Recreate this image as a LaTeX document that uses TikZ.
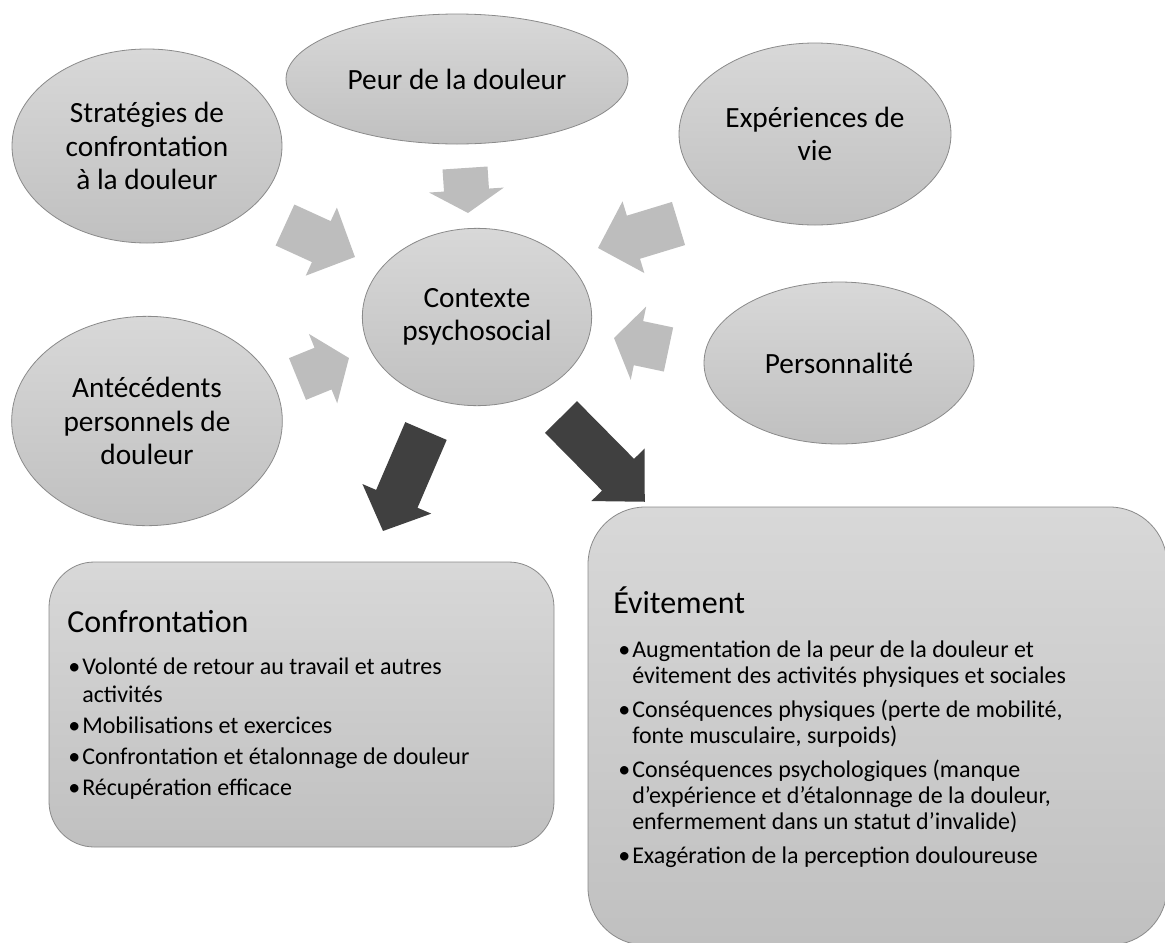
\documentclass[tikz,border=0pt]{standalone}
\usepackage{fontspec}
\setmainfont{Carlito}
\usepackage{tikz}
\usetikzlibrary{calc, shapes.geometric}
\definecolor{shapetop}{HTML}{D8D8D8}
\definecolor{shapebot}{HTML}{C0C0C0}
\definecolor{shapeline}{HTML}{8A8A8A}
\definecolor{lightarrow}{HTML}{BDBDBD}
\definecolor{darkarrow}{HTML}{404040}
\tikzset{
  bubble/.style = {ellipse, draw = shapeline, line width = 0.6pt, top color = shapetop, bottom color = shapebot, inner sep = 0pt, align = center, font = \fontsize{22}{25}\selectfont},
  panel/.style = {rectangle, rounded corners = #1, draw = shapeline, line width = 0.6pt, top color = shapetop, bottom color = shapebot, inner sep = 0pt},
  paneltitle/.style = {anchor = base west, inner sep = 0pt, font = \fontsize{24}{28}\selectfont},
  itemlist/.style = {anchor = base west, inner sep = 0pt, text width = 420pt, align = left, font = #1},
  lightblock/.style = {fill = lightarrow},
  darkblock/.style = {fill = darkarrow}
}
\newcommand{\itm}[1]{\hangindent = 10.5pt\hangafter = 1\noindent\makebox[10.5pt][l]{\textbullet}#1\par}
\newcommand{\blockarrow}[4]{%
  \path (#1); \pgfgetlastxy{\backx}{\backy}
  \path (#2); \pgfgetlastxy{\tipx}{\tipy}
  \pgfmathsetmacro{\arrang}{atan2(\tipy-\backy, \tipx-\backx)}
  \pgfmathsetmacro{\arrlen}{veclen(\tipx-\backx, \tipy-\backy)}
  \pgfmathsetmacro{\arrneck}{\arrlen-#3}
  \fill[#4, shift = {(\backx, \backy)}, rotate = \arrang] (0pt, -16.9pt) -- (\arrneck pt, -16.9pt) -- (\arrneck pt, -28.1pt) -- (\arrlen pt, 0pt) -- (\arrneck pt, 28.1pt) -- (\arrneck pt, 16.9pt) -- (0pt, 16.9pt) -- cycle;
}
\begin{document}
\begin{tikzpicture}[x = 0.75pt, y = -0.75pt]
\useasboundingbox (0,0) rectangle (1165,943);
\node[bubble, minimum width = 202.5pt, minimum height = 145.5pt] (strat) at (147,146) {Stratégies de\\confrontation\\à la douleur};
\node[bubble, minimum width = 256.5pt, minimum height = 97.5pt] (peur) at (457,79) {Peur de la douleur};
\node[bubble, minimum width = 204pt, minimum height = 136.5pt] (exper) at (815,134) {Expériences de\\vie};
\node[bubble, minimum width = 202.5pt, minimum height = 121.5pt] (perso) at (839,363) {Personnalité};
\node[bubble, minimum width = 203pt, minimum height = 157pt] (ante) at (147,421) {Antécédents\\personnels de\\douleur};
\node[bubble, minimum width = 172pt, minimum height = 133pt] (ctx) at (477,317) {Contexte\\psychosocial};

\coordinate (peurback) at (465,168); \coordinate (peurtip) at (468,213);
\coordinate (stratback) at (285,225); \coordinate (strattip) at (355,257);
\coordinate (anteback) at (297.5,379); \coordinate (antetip) at (349,358);
\coordinate (experback) at (678.5,223.5); \coordinate (expertip) at (598,248);
\coordinate (persoback) at (668.5,349.5); \coordinate (persotip) at (614,338);
\coordinate (confrback) at (426,431); \coordinate (confrtip) at (383,531);
\coordinate (evitback) at (561,417); \coordinate (evittip) at (645,502);
\blockarrow{peurback}{peurtip}{17.25}{lightblock}
\blockarrow{stratback}{strattip}{27.75}{lightblock}
\blockarrow{anteback}{antetip}{21}{lightblock}
\blockarrow{experback}{expertip}{27.75}{lightblock}
\blockarrow{persoback}{persotip}{18.75}{lightblock}
\blockarrow{confrback}{confrtip}{26.25}{darkblock}
\blockarrow{evitback}{evittip}{28.5}{darkblock}

\node[panel = 34pt, minimum width = 378.75pt, minimum height = 213.75pt] (confr) at (301.5,704.5) {};
\node[paneltitle] (confrtitle) at (67,632) {Confrontation};
\node[itemlist = \fontsize{18}{21}\selectfont] (confrlist) at (68,674) {\spaceskip = 0pt\xspaceskip = 0pt\setlength{\parskip}{2.4pt}%
\itm{Volonté de retour au travail et autres\newline activités}%
\itm{Mobilisations et exercices}%
\itm{Confrontation et étalonnage de douleur}%
\itm{Récupération efficace}};

\node[panel = 43pt, minimum width = 434.25pt, minimum height = 328.5pt] (evit) at (877.5,726) {};
\node[paneltitle] (evittitle) at (613,613) {Évitement};
\node[itemlist = \fontsize{18}{19.5}\selectfont] (evitlist) at (618,657) {\spaceskip = 0pt\xspaceskip = 0pt\setlength{\parskip}{6pt}%
\itm{Augmentation de la peur de la douleur et\newline évitement des activités physiques et sociales}%
\itm{Conséquences physiques (perte de mobilité,\newline fonte musculaire, surpoids)}%
\itm{Conséquences psychologiques (manque\newline d’expérience et d’étalonnage de la douleur,\newline enfermement dans un statut d’invalide)}%
\itm{Exagération de la perception douloureuse}};
\end{tikzpicture}
\end{document}
